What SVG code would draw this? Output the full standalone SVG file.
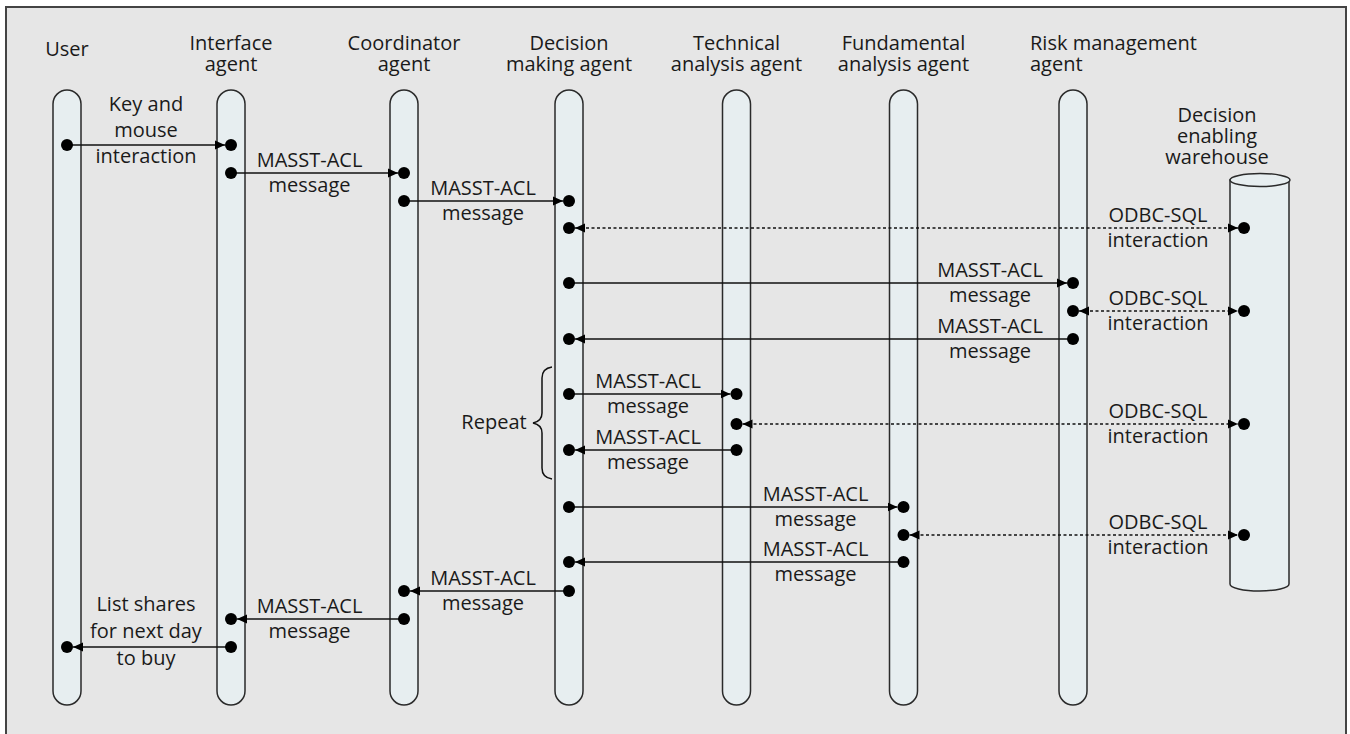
<svg xmlns="http://www.w3.org/2000/svg" width="1350" height="734" viewBox="0 0 1350 734">
<defs>
<style>
.t{font-family:"Open Sans","Noto Sans","Liberation Sans",sans-serif;font-size:20px;fill:#1a1a1a;text-anchor:middle}
.tl{text-anchor:start}
.life{fill:#e7eef0;stroke:#2a2a2a;stroke-width:1.5}
.m{stroke:#111;stroke-width:1.5;fill:none}
.d{stroke:#111;stroke-width:1.5;fill:none;stroke-dasharray:3 2.5}
.dot{fill:#000}
</style>
<marker id="ah" markerUnits="userSpaceOnUse" markerWidth="10" markerHeight="10" refX="10" refY="5" orient="auto-start-reverse" viewBox="0 0 10 10">
<path d="M0,0.5 L10,5 L0,9.5 z" fill="#000"/>
</marker>
</defs>
<rect x="0" y="0" width="1350" height="734" fill="#ffffff"/>
<rect x="6" y="7" width="1340" height="740" fill="#e6e6e6" stroke="#444" stroke-width="2"/>

<g id="user">
<text class="t" x="67" y="56">User</text>
<rect class="life" x="53" y="90" width="28" height="615" rx="14"/>
</g>
<g id="interface-agent">
<text class="t" x="231" y="50">Interface</text>
<text class="t" x="231" y="71">agent</text>
<rect class="life" x="217" y="90" width="28" height="615" rx="14"/>
</g>
<g id="coordinator-agent">
<text class="t" x="404" y="50">Coordinator</text>
<text class="t" x="404" y="71">agent</text>
<rect class="life" x="390" y="90" width="28" height="615" rx="14"/>
</g>
<g id="decision-making-agent">
<text class="t" x="569" y="50">Decision</text>
<text class="t" x="569" y="71">making agent</text>
<rect class="life" x="555" y="90" width="28" height="615" rx="14"/>
</g>
<g id="technical-analysis-agent">
<text class="t" x="736.5" y="50">Technical</text>
<text class="t" x="736.5" y="71">analysis agent</text>
<rect class="life" x="722.5" y="90" width="28" height="615" rx="14"/>
</g>
<g id="fundamental-analysis-agent">
<text class="t" x="903.5" y="50">Fundamental</text>
<text class="t" x="903.5" y="71">analysis agent</text>
<rect class="life" x="889.5" y="90" width="28" height="615" rx="14"/>
</g>
<g id="risk-management-agent">
<text class="t tl" x="1030" y="50">Risk management</text>
<text class="t tl" x="1030" y="71">agent</text>
<rect class="life" x="1059" y="90" width="28" height="615" rx="14"/>
</g>
<g id="decision-enabling-warehouse">
<text class="t" x="1217" y="122">Decision</text>
<text class="t" x="1217" y="143">enabling</text>
<text class="t" x="1217" y="164">warehouse</text>
<path class="life" d="M1230,180 L1230,584 A29.5,7 0 0 0 1289,584 L1289,180 Z"/>
<ellipse class="life" cx="1260" cy="180" rx="30" ry="6.5"/>
</g>

<g id="repeat">
<path class="m" stroke-width="1.2" d="M552,367 C545,368 542,372 542,378 L542,413 C542,419 538,422 533,423 C538,424 542,427 542,433 L542,468 C542,474 545,478 552,479"/>
<text class="t" x="494" y="429">Repeat</text>
</g>

<g id="connectors">
<!-- 1 -->
<line class="m" x1="67" y1="145" x2="225" y2="145" marker-end="url(#ah)"/>
<circle class="dot" cx="67" cy="145" r="6"/><circle class="dot" cx="231" cy="145" r="6"/>
<!-- 2 -->
<line class="m" x1="231" y1="173" x2="398" y2="173" marker-end="url(#ah)"/>
<circle class="dot" cx="231" cy="173" r="6"/><circle class="dot" cx="404" cy="173" r="6"/>
<!-- 3 -->
<line class="m" x1="404" y1="201" x2="563" y2="201" marker-end="url(#ah)"/>
<circle class="dot" cx="404" cy="201" r="6"/><circle class="dot" cx="569" cy="201" r="6"/>
<!-- 4 -->
<line class="d" x1="575" y1="228" x2="1238" y2="228" marker-start="url(#ah)" marker-end="url(#ah)"/>
<circle class="dot" cx="569" cy="228" r="6"/><circle class="dot" cx="1244" cy="228" r="6"/>
<!-- 5 -->
<line class="m" x1="569" y1="283" x2="1067" y2="283" marker-end="url(#ah)"/>
<circle class="dot" cx="569" cy="283" r="6"/><circle class="dot" cx="1073" cy="283" r="6"/>
<!-- 6 -->
<line class="d" x1="1079" y1="311" x2="1238" y2="311" marker-start="url(#ah)" marker-end="url(#ah)"/>
<circle class="dot" cx="1073" cy="311" r="6"/><circle class="dot" cx="1244" cy="311" r="6"/>
<!-- 7 -->
<line class="m" x1="1073" y1="339" x2="575" y2="339" marker-end="url(#ah)"/>
<circle class="dot" cx="1073" cy="339" r="6"/><circle class="dot" cx="569" cy="339" r="6"/>
<!-- 8 -->
<line class="m" x1="569" y1="394" x2="730.5" y2="394" marker-end="url(#ah)"/>
<circle class="dot" cx="569" cy="394" r="6"/><circle class="dot" cx="736.5" cy="394" r="6"/>
<!-- 9 -->
<line class="d" x1="742.5" y1="424" x2="1238" y2="424" marker-start="url(#ah)" marker-end="url(#ah)"/>
<circle class="dot" cx="736.5" cy="424" r="6"/><circle class="dot" cx="1244" cy="424" r="6"/>
<!-- 10 -->
<line class="m" x1="736.5" y1="450" x2="575" y2="450" marker-end="url(#ah)"/>
<circle class="dot" cx="736.5" cy="450" r="6"/><circle class="dot" cx="569" cy="450" r="6"/>
<!-- 11 -->
<line class="m" x1="569" y1="507" x2="897.5" y2="507" marker-end="url(#ah)"/>
<circle class="dot" cx="569" cy="507" r="6"/><circle class="dot" cx="903.5" cy="507" r="6"/>
<!-- 12 -->
<line class="d" x1="909.5" y1="535" x2="1238" y2="535" marker-start="url(#ah)" marker-end="url(#ah)"/>
<circle class="dot" cx="903.5" cy="535" r="6"/><circle class="dot" cx="1244" cy="535" r="6"/>
<!-- 13 -->
<line class="m" x1="903.5" y1="562" x2="575" y2="562" marker-end="url(#ah)"/>
<circle class="dot" cx="903.5" cy="562" r="6"/><circle class="dot" cx="569" cy="562" r="6"/>
<!-- 14 -->
<line class="m" x1="569" y1="591" x2="410" y2="591" marker-end="url(#ah)"/>
<circle class="dot" cx="569" cy="591" r="6"/><circle class="dot" cx="404" cy="591" r="6"/>
<!-- 15 -->
<line class="m" x1="404" y1="619" x2="237" y2="619" marker-end="url(#ah)"/>
<circle class="dot" cx="404" cy="619" r="6"/><circle class="dot" cx="231" cy="619" r="6"/>
<!-- 16 -->
<line class="m" x1="231" y1="647" x2="73" y2="647" marker-end="url(#ah)"/>
<circle class="dot" cx="231" cy="647" r="6"/><circle class="dot" cx="67" cy="647" r="6"/>

<g id="labels">
<text class="t" x="146" y="111">Key and</text>
<text class="t" x="146" y="137">mouse</text>
<text class="t" x="146" y="163">interaction</text>

<text class="t" x="309.5" y="166.5">MASST-ACL</text><text class="t" x="309.5" y="191.5">message</text>
<text class="t" x="483" y="194.5">MASST-ACL</text><text class="t" x="483" y="219.5">message</text>
<text class="t" x="1158" y="221.5">ODBC-SQL</text><text class="t" x="1158" y="246.5">interaction</text>
<text class="t" x="990" y="276.5">MASST-ACL</text><text class="t" x="990" y="301.5">message</text>
<text class="t" x="1158" y="304.5">ODBC-SQL</text><text class="t" x="1158" y="329.5">interaction</text>
<text class="t" x="990" y="332.5">MASST-ACL</text><text class="t" x="990" y="357.5">message</text>
<text class="t" x="648" y="387.5">MASST-ACL</text><text class="t" x="648" y="412.5">message</text>
<text class="t" x="1158" y="417.5">ODBC-SQL</text><text class="t" x="1158" y="442.5">interaction</text>
<text class="t" x="648" y="443.5">MASST-ACL</text><text class="t" x="648" y="468.5">message</text>
<text class="t" x="815.5" y="500.5">MASST-ACL</text><text class="t" x="815.5" y="525.5">message</text>
<text class="t" x="1158" y="528.5">ODBC-SQL</text><text class="t" x="1158" y="553.5">interaction</text>
<text class="t" x="815.5" y="555.5">MASST-ACL</text><text class="t" x="815.5" y="580.5">message</text>
<text class="t" x="483" y="584.5">MASST-ACL</text><text class="t" x="483" y="609.5">message</text>
<text class="t" x="309.5" y="612.5">MASST-ACL</text><text class="t" x="309.5" y="637.5">message</text>

<text class="t" x="146" y="611">List shares</text>
<text class="t" x="146" y="638">for next day</text>
<text class="t" x="146" y="665">to buy</text>
</g>
</g>
</svg>
